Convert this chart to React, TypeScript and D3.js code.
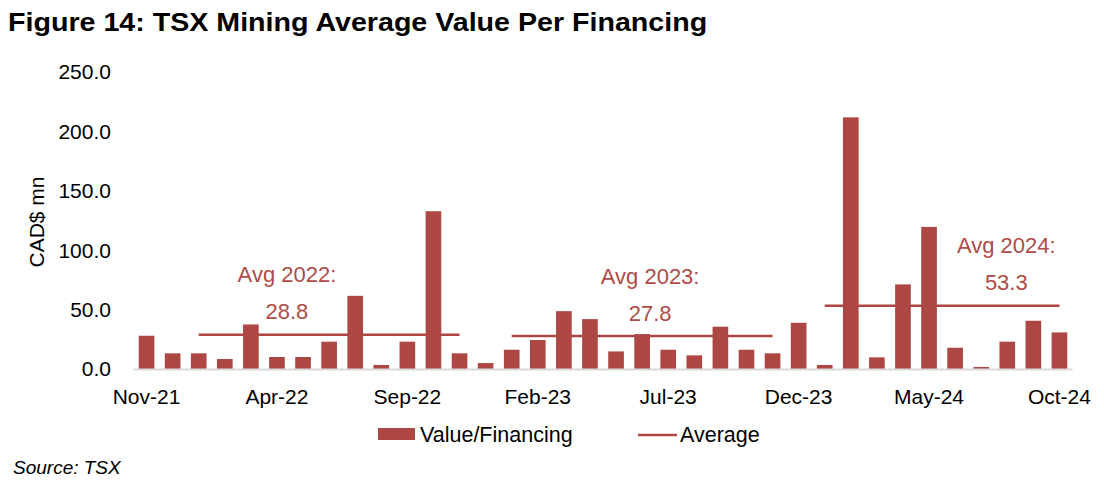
import React from "react";
import * as d3 from "d3";

const months = [
  "Nov-21","Dec-21","Jan-22","Feb-22","Mar-22","Apr-22","May-22","Jun-22","Jul-22","Aug-22","Sep-22","Oct-22",
  "Nov-22","Dec-22","Jan-23","Feb-23","Mar-23","Apr-23","May-23","Jun-23","Jul-23","Aug-23","Sep-23","Oct-23",
  "Nov-23","Dec-23","Jan-24","Feb-24","Mar-24","Apr-24","May-24","Jun-24","Jul-24","Aug-24","Sep-24","Oct-24",
];
const values = [
  28, 13.2, 13.2, 8.4, 37.5, 10.1, 10.1, 23, 61.6, 3.4, 23, 132.8,
  13.2, 5, 16.2, 24.4, 48.7, 42, 14.8, 29.4, 16.2, 11.5, 35.6, 16.2,
  13.2, 38.9, 3.4, 211.8, 9.8, 71.2, 119.6, 17.9, 1.7, 23, 40.6, 30.8,
];
const xTickLabels = ["Nov-21","Apr-22","Sep-22","Feb-23","Jul-23","Dec-23","May-24","Oct-24"];
const yTicks = [0, 50, 100, 150, 200, 250];

const avgYears = ["2022", "2023", "2024"];
const avgValues = [28.8, 27.8, 53.3];
const avgStart = ["Jan-22", "Jan-23", "Jan-24"];
const avgEnd = ["Nov-22", "Nov-23", "Oct-24"];
const avgLabelAt = ["Apr-22", "Jun-23", "Aug-24"];
const avgLabelDx = [10, 8, -1];

const RED = "#AD4743";
const TXT_RED = "#B04B47";
const FONT = "Liberation Sans, Arial, Helvetica, sans-serif";

export default function App() {
  const W = 1104, H = 485;
  const x = d3.scaleBand<string>().domain(months).range([133.5, 1072.5]).paddingInner(0.4).paddingOuter(0.2);
  const y = d3.scaleLinear().domain([0, 250]).range([369, 72]);
  const cx = (m: string) => (x(m) as number) + x.bandwidth() / 2;
  const line = d3.line<[number, number]>().x(d => d[0]).y(d => d[1]);

  return (
    <svg width={W} height={H} style={{ position: "absolute", left: 0, top: 0, background: "#fff" }} fontFamily={FONT}>
      <text transform="translate(8,31) scale(1.08,1)" fontSize={26.5} fontWeight="bold" fill="#000">
        Figure 14: TSX Mining Average Value Per Financing
      </text>

      {/* y axis ticks */}
      {yTicks.map(t => (
        <text key={t} x={111} y={y(t)} dy="0.35em" textAnchor="end" fontSize={21} fill="#000">
          {t.toFixed(1)}
        </text>
      ))}
      <text transform={`translate(37,${222}) rotate(-90)`} textAnchor="middle" dy="0.35em" fontSize={21} fill="#000">
        CAD$ mn
      </text>

      {/* bars */}
      {months.map((m, i) => (
        <rect key={m} x={x(m)} y={y(values[i])} width={x.bandwidth()} height={y(0) - y(values[i])} fill={RED} />
      ))}

      {/* baseline */}
      <line x1={133.5} x2={1072.5} y1={y(0) + 0.5} y2={y(0) + 0.5} stroke="#D9D9D9" strokeWidth={2} />

      {/* average lines */}
      {avgYears.map((yr, i) => (
        <path key={yr}
          d={line([[cx(avgStart[i]), y(avgValues[i])], [cx(avgEnd[i]), y(avgValues[i])]]) as string}
          stroke={RED} strokeWidth={2.5} fill="none" />
      ))}
      {avgYears.map((yr, i) => (
        <g key={"lab" + yr} fill={TXT_RED} fontSize={22} textAnchor="middle">
          <text x={cx(avgLabelAt[i]) + avgLabelDx[i]} y={y(avgValues[i]) - 60} dy="0.35em">{`Avg ${yr}:`}</text>
          <text x={cx(avgLabelAt[i]) + avgLabelDx[i]} y={y(avgValues[i]) - 23} dy="0.35em">{avgValues[i].toFixed(1)}</text>
        </g>
      ))}

      {/* x labels */}
      {xTickLabels.map(m => (
        <text key={m} x={cx(m)} y={397} dy="0.35em" textAnchor="middle" fontSize={21} fill="#000">{m}</text>
      ))}

      {/* legend */}
      <rect x={378} y={428} width={37} height={12} fill={RED} />
      <text x={420} y={434} dy="0.35em" fontSize={21.5} fill="#000">Value/Financing</text>
      <line x1={638} x2={677} y1={435} y2={435} stroke={RED} strokeWidth={2.5} />
      <text x={680} y={434} dy="0.35em" fontSize={21.5} fill="#000">Average</text>

      <text x={13} y={467} dy="0.35em" fontSize={19} fontStyle="italic" fill="#000">Source: TSX</text>
    </svg>
  );
}
